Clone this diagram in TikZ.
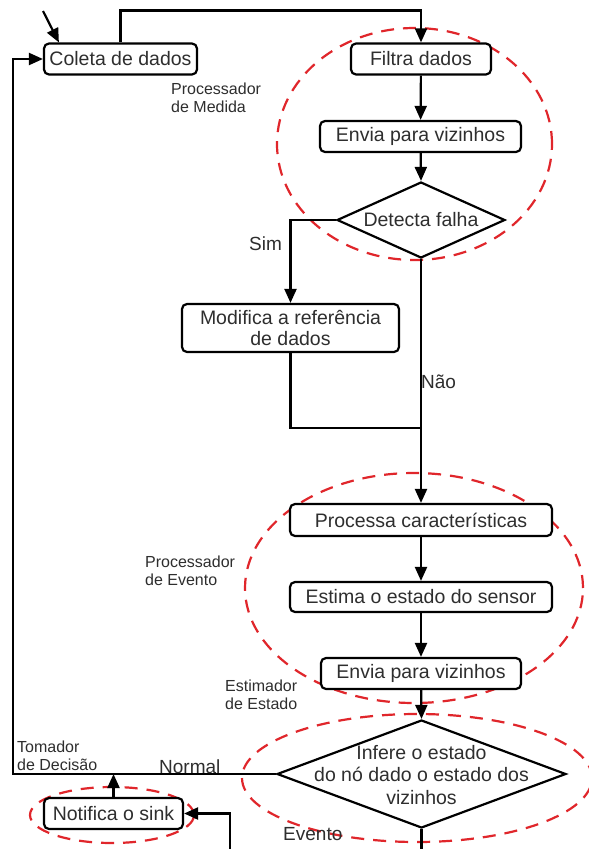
\documentclass[tikz,border=0pt]{standalone}
\usepackage{fontspec}
\setmainfont{Liberation Sans}
\usetikzlibrary{arrows.meta,shapes.geometric}
\definecolor{ink}{HTML}{2E2E2E}
\definecolor{grp}{HTML}{E0262B}
\begin{document}
\begin{tikzpicture}[x=1pt,y=-1pt,
  proc/.style={draw=black, line width=2.2pt, rounded corners=5pt, fill=white, text=ink,
    font=\fontsize{19.5}{21}\selectfont, inner sep=0pt, minimum height=31pt, align=center},
  dec/.style={draw=black, line width=2.2pt, diamond, fill=white, inner sep=0pt},
  dectext/.style={text=ink, font=\fontsize{19.5}{22.5}\selectfont, align=center, inner sep=0pt},
  flow/.style={line width=2.2pt, -{Triangle[length=14pt,width=12pt]}},
  link/.style={line width=2.2pt},
  group/.style={draw=grp, line width=2.2pt, dash pattern=on 13pt off 9pt},
  tag/.style={text=ink, font=\fontsize{16}{18}\selectfont, align=left, anchor=base west, inner sep=0pt},
  lbl/.style={text=ink, font=\fontsize{19}{22}\selectfont, anchor=base west, inner sep=0pt}]

\clip (0,0) rectangle (589,849);
\fill[white] (0,0) rectangle (589,849);

% dashed groups around the stages
\draw[group] (414.5,144) ellipse [x radius=137.5pt, y radius=116pt];
\draw[group] (414,588) ellipse [x radius=169pt, y radius=115pt];
\draw[group] (417,778) ellipse [x radius=175pt, y radius=64pt];
\draw[group] (112,815) ellipse [x radius=82pt, y radius=28pt];

% stage names
\node[tag] (tmed) at (171,112) {Processador\\de Medida};
\node[tag] (tev) at (145,585) {Processador\\de Evento};
\node[tag] (test) at (225,709) {Estimador\\de Estado};
\node[tag] (tdec) at (17,770) {Tomador\\de Decisão};

% steps
\node[proc, minimum width=153pt] (coleta) at (120.5,59) {Coleta de dados};
\node[proc, minimum width=140pt] (filtra) at (421,59) {Filtra dados};
\node[proc, minimum width=201pt] (envia1) at (420.5,136.5) {Envia para vizinhos};
\node[dec, minimum width=168pt, minimum height=76pt] (detecta) at (421,220) {};
\node[dectext] (detectatxt) at (421,220) {Detecta falha};
\node[proc, minimum width=217pt, minimum height=48pt] (modifica) at (290.5,328) {Modifica a referência\\de dados};
\node[proc, minimum width=262pt, minimum height=32pt] (processa) at (421,520) {Processa características};
\node[proc, minimum width=262pt, minimum height=30pt] (estima) at (421,597) {Estima o estado do sensor};
\node[proc, minimum width=200pt] (envia2) at (421,673.5) {Envia para vizinhos};
\node[dec, minimum width=289pt, minimum height=108pt] (infere) at (421.5,774) {};
\node[dectext] (inferetxt) at (421.5,775) {Infere o estado\\do nó dado o estado dos\\vizinhos};
\node[proc, minimum width=139pt] (notifica) at (113.5,813.5) {Notifica o sink};

% helper points
\coordinate (src) at (43,11);
\coordinate (merge) at (421,428);
\coordinate (loop) at (13,774);
\coordinate (evcorner) at (230,853);

% connectors
\draw[flow] (src) -- ([xshift=16pt]coleta.north west);
\draw[flow] (coleta.north) -- ++(0,-32) -| (filtra.north);
\draw[flow] (filtra) -- (envia1);
\draw[flow] (envia1) -- (detecta.north);
\draw[flow] (detecta.west) -| (modifica.north);
\draw[link] (modifica.south) |- (merge);
\draw[flow] (detecta.south) -- (processa.north);
\draw[flow] (processa) -- (estima);
\draw[flow] (estima) -- (envia2);
\draw[flow] (envia2) -- (infere.north);
\draw[flow] (infere.west) -- (loop) |- (coleta.west);
\draw[flow] (notifica.north) -- (notifica.north |- infere.west);
\draw[flow] (infere.south) |- (evcorner) |- (notifica.east);

% branch labels
\node[lbl] (sim) at (249,250) {Sim};
\node[lbl] (nao) at (421,388) {Não};
\node[lbl] (normal) at (159,773) {Normal};
\node[lbl] (evento) at (283,840) {Evento};
\end{tikzpicture}
\end{document}
